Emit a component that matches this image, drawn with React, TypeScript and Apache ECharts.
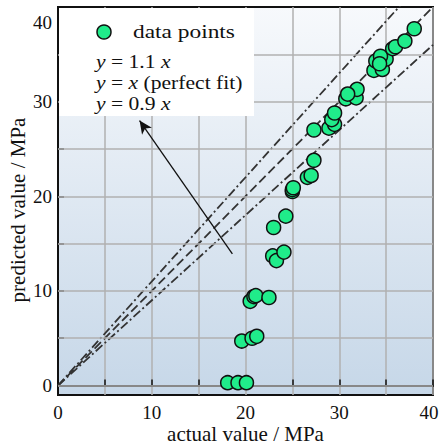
import React, { useEffect, useRef } from "react";
import * as echarts from "echarts";

const actualValues = [18.1, 19.2, 20.1, 19.6, 20.7, 21.2, 20.5, 20.9, 21.1, 22.5, 22.9, 23.3, 24.1, 23.0, 24.3, 25.0, 25.0, 25.1, 26.6, 27.0, 27.3, 27.3, 28.9, 29.5, 29.2, 29.5, 30.7, 31.8, 31.9, 30.9, 33.7, 33.9, 34.6, 35.0, 34.4, 34.3, 35.7, 36.0, 37.0, 38.0];
const predictedValues = [0.3, 0.3, 0.3, 4.7, 5.0, 5.2, 8.9, 9.4, 9.5, 9.3, 13.7, 13.2, 14.1, 16.7, 17.9, 20.5, 20.7, 20.9, 22.0, 22.2, 23.8, 27.0, 27.2, 27.6, 28.1, 28.8, 30.3, 30.4, 31.3, 30.8, 33.3, 34.3, 33.4, 34.5, 34.8, 34.0, 35.6, 35.8, 36.4, 37.7];

const fitSlopes = [1.1, 1.0, 0.9];
const fitDash = [[9, 3, 2, 3], [9, 4], [9, 3, 2, 3]];
const yTickValues = [0, 5, 10, 15, 20, 25, 30, 35, 40];
const yLabelValues = [0, 10, 20, 30, 40];
const yGridValues = [0, 5, 10, 15, 20, 25, 30, 35];
const arrowFrom = [18.6, 13.9];
const arrowTo = [8.7, 28.0];
const legendLines = ["{i|y} = 1.1 {i|x}", "{i|y} = {i|x} (perfect fit)", "{i|y} = 0.9 {i|x}"];

const FONT = "Liberation Serif";

export default function App() {
  const ref = useRef<HTMLDivElement>(null);
  useEffect(() => {
    if (!ref.current) return;
    const chart = echarts.init(ref.current, undefined, { renderer: "svg" });
    const points = actualValues.map((a, i) => [a, predictedValues[i]]);
    const fitSeries = fitSlopes.map((k, i) => ({
      type: "line",
      data: [[0, 0], [40, 40 * k]],
      showSymbol: false,
      symbol: "none",
      clip: true,
      z: 3,
      lineStyle: { color: "#333333", width: 1.8, type: fitDash[i] },
      silent: true,
    }));
    const option: any = {
      animation: false,
      textStyle: { fontFamily: FONT, fontSize: 19, color: "#111" },
      grid: {
        left: 58,
        right: 7,
        top: 7,
        bottom: 49,
        containLabel: false,
        outerBoundsMode: "none",
        show: true,
        borderColor: "#111",
        borderWidth: 2,
        backgroundColor: new echarts.graphic.LinearGradient(0, 0, 0, 1, [
          { offset: 0, color: "#f7f9fc" },
          { offset: 1, color: "#c6d7e8" },
        ]),
      },
      xAxis: [{
        type: "value",
        min: 0,
        max: 40,
        interval: 5,
        name: "actual value / MPa",
        nameLocation: "middle",
        nameGap: 28,
        nameMoveOverlap: false,
        nameTextStyle: { fontFamily: FONT, fontSize: 21, lineHeight: 21, color: "#111" },
        axisLine: { show: true, lineStyle: { color: "#111", width: 2 } },
        axisTick: { show: true, inside: true, length: 6, lineStyle: { color: "#111", width: 1.5 } },
        axisLabel: {
          show: true,
          formatter: (v: number) => (v === 40 ? "{r|40}" : v % 10 === 0 ? String(v) : ""),
          rich: { r: { fontFamily: FONT, fontSize: 19, lineHeight: 19, color: "#111", padding: [0, 8, 0, 0] } },
          fontFamily: FONT,
          fontSize: 19,
          lineHeight: 19,
          color: "#111",
          margin: 8,
        },
        splitLine: { show: true, lineStyle: { color: "#b0b0b0", width: 1.5 } },
      }],
      yAxis: [{
        type: "value",
        min: -1,
        max: 40,
        name: "predicted value / MPa",
        nameLocation: "middle",
        nameGap: 30,
        nameMoveOverlap: false,
        nameTextStyle: { fontFamily: FONT, fontSize: 21, color: "#111", padding: [0, 18, 0, 0] },
        axisLine: { show: true, lineStyle: { color: "#111", width: 2 } },
        axisTick: { show: true, inside: true, length: 6, customValues: yTickValues, lineStyle: { color: "#111", width: 1.5 } },
        axisLabel: {
          show: true,
          customValues: yLabelValues,
          formatter: (v: number) => (v === 40 ? "{a|40}" : String(v)),
          rich: { a: { fontFamily: FONT, fontSize: 19, color: "#111", padding: [30, 0, 0, 0] } },
          fontFamily: FONT,
          fontSize: 19,
          color: "#111",
          margin: 6,
        },
        splitLine: { show: false },
      }],
      series: [
        {
          type: "line",
          data: [],
          silent: true,
          z: 1,
          markLine: {
            silent: true,
            symbol: ["none", "none"],
            label: { show: false },
            lineStyle: { color: "#b0b0b0", width: 1.5, type: "solid" },
            data: yGridValues.map((v) => ({ yAxis: v })),
          },
        },
        ...fitSeries,
        {
          type: "scatter",
          data: points,
          symbol: "circle",
          symbolSize: 14,
          z: 5,
          itemStyle: { color: "#20ec8a", borderColor: "#111", borderWidth: 1.5, opacity: 1 },
          markLine: {
            silent: true,
            symbol: ["none", "arrow"],
            symbolSize: [9, 13],
            label: { show: false },
            lineStyle: { color: "#111", width: 1.3, type: "solid" },
            data: [[{ coord: arrowFrom }, { coord: arrowTo }]],
          },
        },
      ],
      graphic: [
        {
          type: "rect",
          z: 10,
          shape: { x: 59, y: 8, width: 195, height: 108 },
          style: { fill: "#ffffff" },
        },
        {
          type: "circle",
          z: 11,
          shape: { cx: 104, cy: 32, r: 7 },
          style: { fill: "#20ec8a", stroke: "#111", lineWidth: 1.5 },
        },
        {
          type: "text",
          z: 11,
          x: 133,
          y: 32,
          scaleX: 1.3,
          style: { text: "data points", fontFamily: FONT, fontSize: 18, fill: "#111", verticalAlign: "middle" },
        },
        ...legendLines.map((t, i) => ({
          type: "text",
          z: 11,
          x: 96,
          y: 62 + i * 21,
          scaleX: 1.2,
          style: {
            text: t,
            fontFamily: FONT,
            fontSize: 18,
            fill: "#111",
            verticalAlign: "middle",
            rich: { i: { fontFamily: FONT, fontSize: 18, fontStyle: "italic", fill: "#111" } },
          },
        })),
      ],
    };
    chart.setOption(option);
    return () => chart.dispose();
  }, []);
  return <div ref={ref} style={{ width: 440, height: 444, position: "absolute", left: 0, top: 0 }} />;
}
